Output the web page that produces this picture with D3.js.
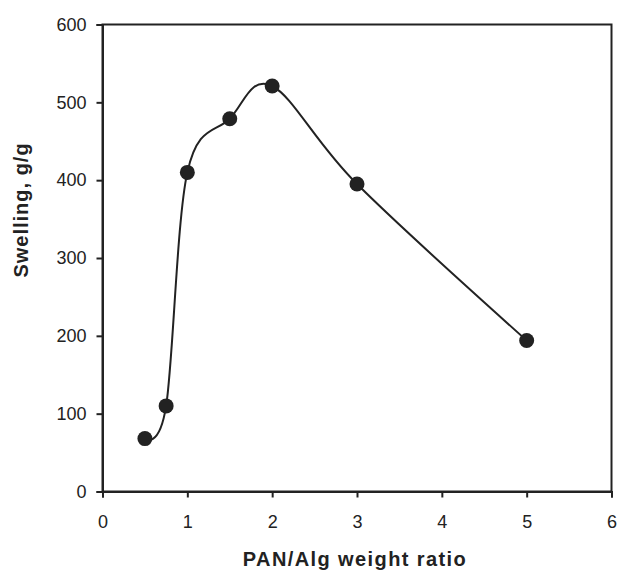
<!DOCTYPE html>
<html><head><meta charset="utf-8">
<script src="https://cdn.jsdelivr.net/npm/d3@7"></script>
<style>body{margin:0;background:#fff}svg{display:block}</style>
</head><body>
<script>
const ratios = [0.5, 0.75, 1, 1.5, 2, 3, 5];
const swelling = [68, 110, 410, 479, 521, 395, 194];
const xTicks = [0,1,2,3,4,5,6];
const yTicks = [0,100,200,300,400,500,600];

const W=619,H=571;
const svg=d3.select("body").append("svg").attr("width",W).attr("height",H);
const x=d3.scaleLinear().domain([0,6]).range([102.5,611.5]);
const y=d3.scaleLinear().domain([0,600]).range([491.5,24.5]);
const c="#222";
const font="'Liberation Sans', Arial, sans-serif";

svg.append("rect").attr("x",x(0)).attr("y",y(600)).attr("width",x(6)-x(0)).attr("height",y(0)-y(600))
  .attr("fill","none").attr("stroke",c).attr("stroke-width",2);

const xa=svg.append("g").attr("transform",`translate(0,${y(0)})`)
  .call(d3.axisBottom(x).tickValues(xTicks).tickSize(6).tickPadding(18).tickFormat(d3.format("d")));
const ya=svg.append("g").attr("transform",`translate(${x(0)},0)`)
  .call(d3.axisLeft(y).tickValues(yTicks).tickSize(6).tickPadding(10).tickFormat(d3.format("d")));
[xa,ya].forEach(a=>{
  a.select(".domain").attr("stroke",c).attr("stroke-width",2);
  a.selectAll(".tick line").attr("stroke",c).attr("stroke-width",2);
  a.selectAll(".tick text").attr("fill",c).style("font-family",font).style("font-size","18px");
});

const line=d3.line().x((d,i)=>x(ratios[i])).y(d=>y(d)).curve(d3.curveCatmullRom.alpha(0));
svg.append("path").datum(swelling).attr("d",line).attr("fill","none").attr("stroke",c).attr("stroke-width",2);

svg.selectAll("circle.pt").data(swelling).enter().append("circle")
  .attr("cx",(d,i)=>x(ratios[i])).attr("cy",d=>y(d)).attr("r",7.5).attr("fill",c);

svg.append("text").attr("x",355).attr("y",566).attr("text-anchor","middle")
  .style("font-family",font).style("font-size","20px").style("font-weight","bold").style("letter-spacing","1.4px").attr("fill",c)
  .text("PAN/Alg weight ratio");
svg.append("text").attr("transform","translate(28,210) rotate(-90)").attr("text-anchor","middle")
  .style("font-family",font).style("font-size","20px").style("font-weight","bold").style("letter-spacing","1px").attr("fill",c)
  .text("Swelling, g/g");
</script>
</body></html>
